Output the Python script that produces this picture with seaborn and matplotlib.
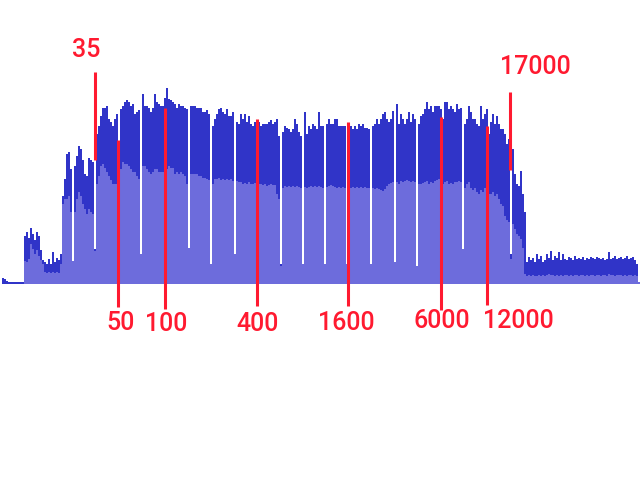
import matplotlib
matplotlib.use('Agg')
import matplotlib.pyplot as plt
import numpy as np
import pandas as pd
import seaborn as sns

peak_level = [
    0, 6, 5, 3, 2, 2, 2, 2, 2, 2,
    2, 2, 48, 52, 46, 56, 50, 44, 52, 48,
    34, 24, 22, 20, 25, 20, 32, 22, 26, 24,
    30, 88, 105, 130, 132, 115, 23, 118, 128, 138,
    135, 124, 110, 108, 126, 124, 122, 35, 150, 158,
    168, 176, 176, 178, 165, 162, 158, 165, 170, 30,
    175, 178, 182, 184, 182, 178, 180, 170, 172, 174,
    30, 190, 178, 178, 176, 172, 176, 190, 182, 180,
    178, 178, 186, 196, 185, 184, 182, 180, 176, 180,
    178, 178, 176, 175, 36, 178, 178, 178, 176, 176,
    176, 172, 172, 174, 170, 20, 158, 165, 170, 175,
    176, 172, 170, 175, 168, 168, 172, 30, 162, 160,
    170, 165, 170, 162, 168, 160, 158, 162, 158, 162,
    158, 160, 160, 160, 162, 164, 160, 162, 165, 148,
    20, 152, 158, 156, 155, 152, 155, 165, 160, 152,
    148, 20, 172, 150, 158, 155, 160, 158, 155, 172,
    158, 158, 20, 160, 165, 160, 160, 165, 165, 158,
    158, 158, 158, 20, 156, 158, 155, 158, 155, 160,
    158, 160, 156, 156, 155, 20, 158, 160, 165, 160,
    165, 170, 172, 165, 162, 165, 173, 22, 180, 160,
    170, 165, 160, 165, 172, 162, 170, 165, 18, 160,
    168, 170, 175, 182, 175, 178, 172, 178, 178, 178,
    175, 165, 182, 182, 175, 178, 175, 172, 180, 175,
    176, 35, 160, 165, 178, 172, 165, 165, 160, 158,
    178, 165, 170, 175, 150, 162, 170, 160, 168, 160,
    155, 155, 150, 140, 145, 30, 135, 110, 100, 98,
    113, 90, 72, 22, 27, 24, 26, 22, 30, 25,
    28, 22, 24, 30, 26, 33, 24, 28, 26, 32,
    24, 30, 25, 24, 27, 26, 24, 28, 25, 26,
    25, 27, 24, 26, 25, 27, 26, 25, 27, 26,
    25, 26, 24, 25, 32, 25, 26, 28, 25, 26,
    27, 25, 26, 28, 25, 26, 27, 24, 20, 2,
]
fill_level = [
    0, 0, 0, 0, 0, 0, 0, 0, 0, 0,
    0, 0, 23, 22, 25, 40, 35, 30, 34, 28,
    24, 20, 12, 11, 12, 11, 12, 11, 12, 11,
    20, 80, 85, 85, 88, 72, 23, 72, 85, 92,
    88, 80, 75, 70, 75, 72, 70, 33, 100, 108,
    118, 120, 116, 112, 108, 104, 100, 100, 100, 30,
    115, 122, 120, 120, 118, 115, 112, 112, 108, 105,
    30, 118, 118, 115, 112, 110, 112, 115, 115, 112,
    112, 112, 115, 115, 118, 116, 116, 110, 112, 110,
    112, 110, 108, 100, 36, 110, 110, 110, 110, 108,
    108, 106, 106, 105, 104, 20, 100, 105, 105, 106,
    104, 105, 104, 105, 104, 105, 103, 30, 103, 102,
    102, 100, 101, 100, 102, 100, 100, 101, 100, 100,
    100, 99, 100, 98, 99, 100, 99, 99, 90, 85,
    18, 96, 98, 97, 98, 97, 98, 97, 98, 97,
    96, 20, 97, 96, 97, 98, 97, 98, 97, 98,
    97, 96, 20, 97, 98, 99, 98, 97, 96, 97,
    96, 97, 96, 20, 95, 96, 97, 96, 97, 96,
    97, 96, 97, 96, 96, 20, 96, 95, 96, 95,
    94, 93, 95, 98, 100, 101, 102, 22, 102, 100,
    103, 102, 103, 104, 103, 102, 103, 102, 18, 100,
    100, 101, 102, 103, 100, 102, 101, 103, 104, 105,
    103, 100, 102, 103, 100, 101, 100, 102, 102, 103,
    102, 35, 96, 100, 102, 96, 94, 96, 92, 90,
    94, 92, 96, 96, 90, 90, 92, 88, 90, 85,
    80, 78, 68, 64, 62, 25, 60, 55, 50, 48,
    45, 36, 10, 8, 9, 8, 9, 8, 8, 9,
    8, 9, 8, 9, 10, 9, 9, 8, 9, 8,
    9, 8, 9, 9, 8, 9, 8, 9, 9, 8,
    9, 9, 8, 9, 8, 9, 9, 8, 9, 9,
    8, 9, 9, 8, 10, 9, 9, 8, 9, 9,
    9, 8, 9, 8, 9, 9, 8, 9, 8, 2,
]

# Marked frequencies
marker_labels = ['35', '50', '100', '400', '1600', '6000', '12000', '17000']
marker_bins = [47.2, 58.7, 81.9, 128.1, 173.6, 220.1, 243.2, 254.7]
marker_tops = [211.5, 143.5, 175.5, 164.5, 161.5, 166.5, 157.5, 191.5]
marker_bottoms = [123.5, -23.5, -25.5, -22.5, -22.5, -26.5, -21.5, 113.5]
label_bins = [42.5, 60, 82.5, 128.5, 172.5, 220.5, 258.5, 267.3]
label_levels = [233.5, -39.5, -40.5, -40.5, -39.5, -37.5, -37.5, 216.5]

df = pd.DataFrame({'bin': np.arange(len(peak_level)), 'peak': peak_level, 'fill': fill_level})

fig, ax = plt.subplots(figsize=(6.4, 4.8), dpi=100)
ax.set_position([0, 0, 1, 1])

# Dark peaks behind, lighter average on top
sns.barplot(data=df, x='bin', y='peak', color='#3034c8', saturation=1, width=1, linewidth=0, antialiased=False, ax=ax)
sns.barplot(data=df, x='bin', y='fill', color='#6d6cdc', saturation=1, width=1, linewidth=0, antialiased=False, ax=ax)

ax.vlines(marker_bins, marker_bottoms, marker_tops, color='#ff1a30', linewidth=2.2)
for name, xb, yl in zip(marker_labels, label_bins, label_levels):
    ax.text(xb, yl, name, color='#ff1a30', fontsize=18, family='Roboto', weight='medium', ha='center', va='center')

ax.set_xlim(-0.5, len(peak_level) - 0.5)
ax.set_ylim(-196.5, 283.5)
ax.axis('off')

plt.savefig('out.png', dpi=100)
